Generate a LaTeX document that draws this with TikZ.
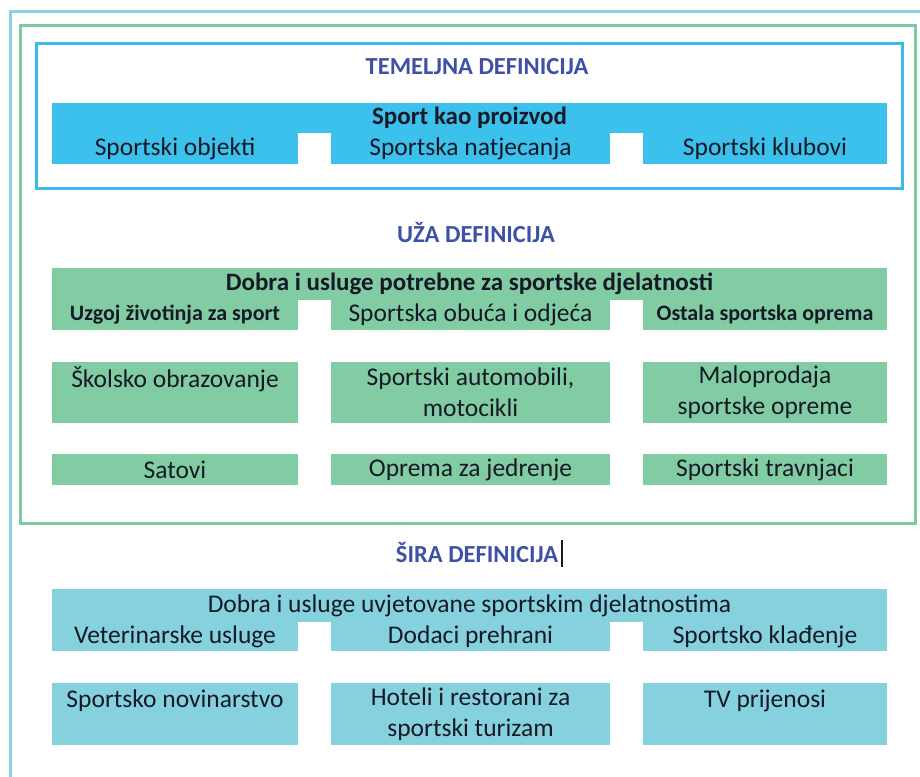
\documentclass[tikz,border=0pt]{standalone}
\usepackage{fontspec}
\setmainfont{Carlito}
\definecolor{okvir}{HTML}{8CD3E0}
\definecolor{zelokvir}{HTML}{7DCBA0}
\definecolor{plaokvir}{HTML}{3BB9E8}
\definecolor{plava}{HTML}{3CC0EC}
\definecolor{zelena}{HTML}{82CCA3}
\definecolor{tirkiz}{HTML}{86D1DE}
\definecolor{naslov}{HTML}{3F51A5}
\definecolor{tekst}{HTML}{151A26}

\begin{document}
\begin{tikzpicture}[x=1pt,y=-1pt,
    polje/.style={inner sep=0pt,outer sep=0pt,align=center,text=tekst,
      font=\fontsize{25.5}{31}\selectfont},
    naslov/.style={font=\bfseries\fontsize{24.5}{28}\selectfont,text=naslov},
    uski/.style={font=\bfseries\fontsize{22}{26}\selectfont}]
  \useasboundingbox (0,0) rectangle (920,776);
  \clip (0,0) rectangle (920,776);
  \fill[white] (0,0) rectangle (920,776);
  % okviri
  \draw[okvir,line width=3] (10,12) rectangle (940,800);
  \draw[zelokvir,line width=3] (20,26) rectangle (915,523);
  \draw[plaokvir,line width=3] (36,44) rectangle (902,188);

  % temeljna definicija
  \node[naslov] (temeljna) at (477,67) {TEMELJNA DEFINICIJA};
  \node[polje,fill=plava,minimum width=835,minimum height=30,font=\bfseries\fontsize{25}{31}\selectfont]
    (proizvod) at (469.5,118) {Sport kao proizvod};
  \node[polje,fill=plava,minimum width=246,minimum height=31] (objekti) at (175,148.5) {Sportski objekti};
  \node[polje,fill=plava,minimum width=279,minimum height=31] (natjecanja) at (470.5,148.5) {Sportska natjecanja};
  \node[polje,fill=plava,minimum width=244,minimum height=31] (klubovi) at (765,148.5) {Sportski klubovi};

  % uza definicija
  \node[naslov] (uza) at (476,233) {UŽA DEFINICIJA};
  \node[polje,fill=zelena,minimum width=835,minimum height=32,font=\bfseries\fontsize{25}{31}\selectfont]
    (potrebne) at (469.5,284) {Dobra i usluge potrebne za sportske djelatnosti};
  \node[polje,fill=zelena,minimum width=246,minimum height=30,uski] (uzgoj) at (175,315) {Uzgoj životinja za sport};
  \node[polje,fill=zelena,minimum width=279,minimum height=30] (obuca) at (470.5,315) {Sportska obuća i odjeća};
  \node[polje,fill=zelena,minimum width=244,minimum height=30,uski] (ostala) at (765,315) {Ostala sportska oprema};
  \node[polje,fill=zelena,minimum width=246,minimum height=61] (skolsko) at (175,392.5) {Školsko obrazovanje\\~};
  \node[polje,fill=zelena,minimum width=279,minimum height=61] (automobili) at (470.5,392.5) {Sportski automobili,\\motocikli};
  \node[polje,fill=zelena,minimum width=244,minimum height=61] (maloprodaja) at (765,392.5) {Maloprodaja\\sportske opreme};
  \node[polje,fill=zelena,minimum width=246,minimum height=31] (satovi) at (175,469.5) {Satovi};
  \node[polje,fill=zelena,minimum width=279,minimum height=31] (jedrenje) at (470.5,469.5) {Oprema za jedrenje};
  \node[polje,fill=zelena,minimum width=244,minimum height=31] (travnjaci) at (765,469.5) {Sportski travnjaci};

  % sira definicija
  \node[naslov] (sira) at (477,553) {ŠIRA DEFINICIJA};
  \draw[tekst,line width=2] (sira.east) ++(0,-13) -- ++(0,27);
  \node[polje,fill=tirkiz,minimum width=835,minimum height=33] (uvjetovane) at (469.5,605.5) {Dobra i usluge uvjetovane sportskim djelatnostima};
  \node[polje,fill=tirkiz,minimum width=246,minimum height=29] (veterinarske) at (175,636.5) {Veterinarske usluge};
  \node[polje,fill=tirkiz,minimum width=279,minimum height=29] (dodaci) at (470.5,636.5) {Dodaci prehrani};
  \node[polje,fill=tirkiz,minimum width=244,minimum height=29] (kladenje) at (765,636.5) {Sportsko klađenje};
  \node[polje,fill=tirkiz,minimum width=246,minimum height=62] (novinarstvo) at (175,714) {Sportsko novinarstvo\\~};
  \node[polje,fill=tirkiz,minimum width=279,minimum height=62] (hoteli) at (470.5,714) {Hoteli i restorani za\\sportski turizam};
  \node[polje,fill=tirkiz,minimum width=244,minimum height=62] (prijenosi) at (765,714) {TV prijenosi\\~};
\end{tikzpicture}
\end{document}
